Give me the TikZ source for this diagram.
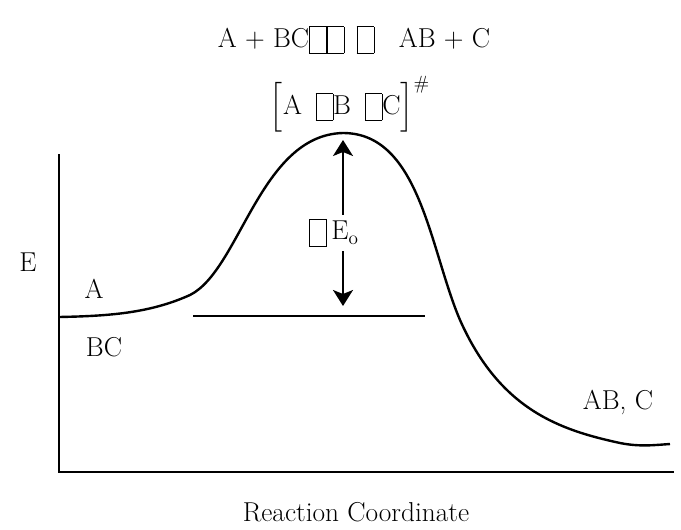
\documentclass[tikz,border=0pt]{standalone}
\usepackage{amsmath}
\usepackage{tikz}
\usetikzlibrary{arrows.meta,positioning}
\newcommand{\gbox}{{\setlength{\fboxsep}{0pt}\setlength{\fboxrule}{0.45pt}\raisebox{-0.22em}{\fbox{\rule{0pt}{0.95em}\hspace{0.6em}}}}}
\begin{document}
\begin{tikzpicture}[x=0.75pt,y=-0.75pt,
    lbl/.style={font=\fontsize{20.5}{24}\selectfont},
    axis/.style={line width=2.2pt},
    curve/.style={line width=1.8pt},
    arr/.style={line width=1.5pt,-{Stealth[length=12pt,width=15pt,inset=3pt]}}]
    \useasboundingbox (0,0) rectangle (681,529);
    % axes
    \coordinate (O) at (59,472);
    \coordinate (Y) at (59,154);
    \coordinate (X) at (674,472);
    \draw[axis] (Y) -- (O) -- (X);
    % energy profile
    \draw[curve] (59,317) .. controls (110,316) and (150,313) .. (190,295)
        .. controls (240,270) and (260,135) .. (343,133)
        .. controls (420,133) and (430,250) .. (460,320)
        .. controls (500,410) and (560,430) .. (620,443)
        .. controls (640,447) and (655,445) .. (670,444);
    \coordinate (L) at (193,316);
    \coordinate (R) at (425,316);
    \draw[curve] (L) -- (R);
    % barrier
    \coordinate (top) at (343,140);
    \coordinate (bot) at (343,306);
    \node[lbl] (dE) at (334,233) {\gbox\,E$_\mathrm{o}$};
    \draw[arr] (dE.north -| top) -- (top);
    \draw[arr] (dE.south -| bot) -- (bot);
    % labels
    \node[lbl,anchor=base] (eq) at (354,47) {A + BC\gbox\gbox\hspace{0.45em}\gbox\hspace{0.9em}AB + C};
    \node[lbl,anchor=base] (ts) at (350,114) {$\Bigl[\text{A\hspace{0.5em}\gbox B\hspace{0.5em}\gbox C}\Bigr]^{\#}$};
    \node[lbl] (E) at (28,262) {E};
    \node[lbl] (A) at (94,289) {A};
    \node[lbl] (BC) at (104,347) {BC};
    \node[lbl] (ABC) at (618,402) {AB, C};
    \node[lbl] (rc) at (356,512) {Reaction Coordinate};
\end{tikzpicture}
\end{document}
